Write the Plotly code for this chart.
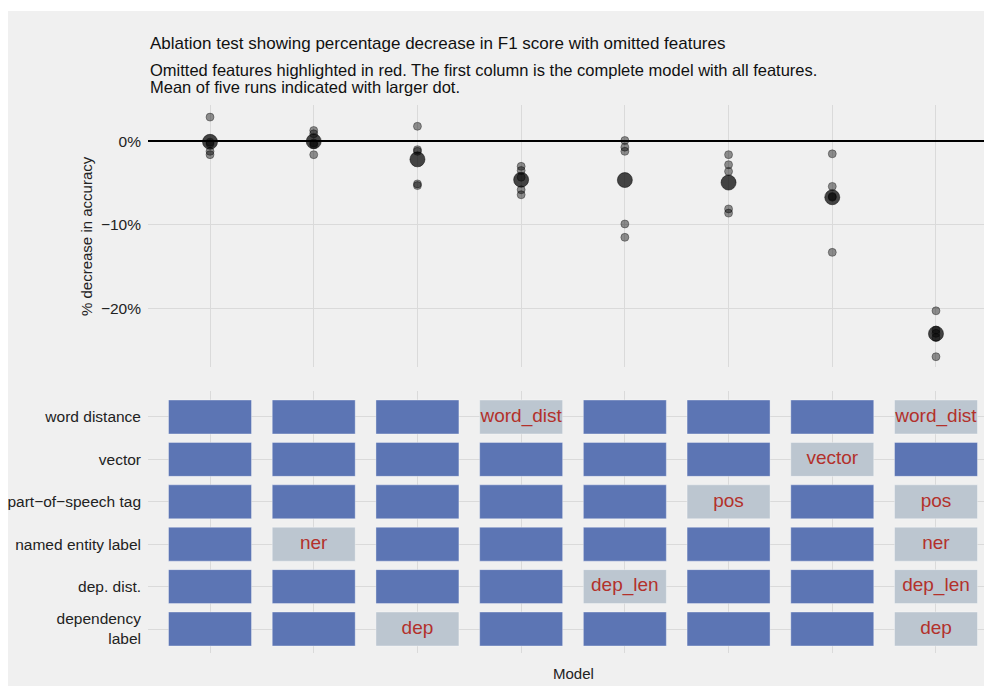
import numpy as np
import plotly.graph_objects as go

# Models (columns) and the feature codes omitted from each one
model_ids = [1, 2, 3, 4, 5, 6, 7, 8]
omitted = [
    [],
    ["ner"],
    ["dep"],
    ["word_dist"],
    ["dep_len"],
    ["pos"],
    ["vector"],
    ["word_dist", "pos", "ner", "dep_len", "dep"],
]

# Feature rows, listed bottom to top
feature_codes = ["dep", "dep_len", "ner", "pos", "vector", "word_dist"]
feature_labels = ["dependency<br>label", "dep. dist.", "named entity label",
                  "part\u2212of\u2212speech tag", "vector", "word distance"]

# Percentage change in F1 for five runs of each model
runs = [
    [2.9, -0.1, -0.3, -1.2, -1.6],
    [1.3, 0.9, -0.2, -0.4, -1.6],
    [1.8, -1.0, -1.2, -5.1, -5.3],
    [-3.0, -3.5, -4.3, -5.8, -6.4],
    [0.1, -0.7, -1.2, -9.9, -11.5],
    [-1.6, -2.8, -3.6, -8.1, -8.6],
    [-1.5, -5.4, -6.6, -6.7, -13.3],
    [-20.3, -22.6, -23.0, -23.5, -25.8],
]
y_ticks = [-20, -10, 0]
y_tick_text = ["\u221220%", "\u221210%", "0%"]

FONT = "Liberation Sans, Arial, Helvetica, sans-serif"
BG = "#f0f0f0"
GRID = "#dadada"
BLUE = "#5c75b4"
GREY = "#bcc6d0"
RED = "#b3312b"

fig = go.Figure()

# Individual runs
run_x = [m for m, r in zip(model_ids, runs) for _ in r]
run_y = [v for r in runs for v in r]
fig.add_trace(go.Scatter(
    x=run_x, y=run_y, mode="markers", xaxis="x", yaxis="y",
    marker=dict(size=8, color="rgba(0,0,0,0.42)",
                line=dict(width=1, color="rgba(0,0,0,0.35)")),
    showlegend=False, hoverinfo="x+y"))

# Mean of the five runs
means = [float(np.mean(r)) for r in runs]
fig.add_trace(go.Scatter(
    x=model_ids, y=means, mode="markers", xaxis="x", yaxis="y",
    marker=dict(size=15, color="rgba(0,0,0,0.72)",
                line=dict(width=1, color="rgba(0,0,0,0.5)")),
    showlegend=False, hoverinfo="x+y"))

# Feature tiles: present features in blue, omitted ones in grey with a red label
tile_w, tile_h = 0.8, 0.8
for state, colour in [("present", BLUE), ("omitted", GREY)]:
    bx, by = [], []
    for m, om in zip(model_ids, omitted):
        for code in feature_codes:
            is_om = code in om
            if (state == "omitted") == is_om:
                bx.append(m - tile_w / 2)
                by.append(feature_codes.index(code) + 1)
    fig.add_trace(go.Bar(
        orientation="h", base=bx, x=[tile_w] * len(bx), y=by, width=tile_h,
        xaxis="x2", yaxis="y2",
        marker=dict(color=colour, line=dict(width=1, color="rgba(255,255,255,0.35)")),
        showlegend=False, hoverinfo="skip"))

lab_x, lab_y, lab_t = [], [], []
for m, om in zip(model_ids, omitted):
    for code in om:
        lab_x.append(m)
        lab_y.append(feature_codes.index(code) + 1)
        lab_t.append(code)
fig.add_trace(go.Scatter(
    x=lab_x, y=lab_y, text=lab_t, mode="text", xaxis="x2", yaxis="y2",
    textfont=dict(family=FONT, size=19, color=RED),
    showlegend=False, hoverinfo="skip"))

L, R, T, B = 148, 0, 105, 34
W, H = 984, 687
plot_h = H - T - B
plot_w = W - L - R


def py(px):
    return (H - B - px) / plot_h


def pxx(px):
    return (px - L) / plot_w


x_range = [0.402, 8.463]
axis_common = dict(showline=False, zeroline=False, gridcolor=GRID, gridwidth=1,
                   ticks="", tickfont=dict(family=FONT, size=15.5, color="#222222"))

fig.update_layout(
    width=W, height=H,
    margin=dict(l=L, r=R, t=T, b=B),
    paper_bgcolor="white",
    plot_bgcolor="rgba(0,0,0,0)",
    barmode="overlay",
    font=dict(family=FONT, color="#222222"),
    xaxis=dict(axis_common, domain=[0, 1], range=x_range, anchor="y",
               tickvals=model_ids, showticklabels=False, showgrid=True),
    yaxis=dict(axis_common, domain=[py(367), 1], range=[-27.03, 4.35], anchor="x",
               tickvals=y_ticks, ticktext=y_tick_text, showgrid=True,
               zeroline=True, zerolinecolor="black", zerolinewidth=2,
               ticklabelstandoff=6),
    xaxis2=dict(axis_common, domain=[0, 1], range=x_range, anchor="y2",
                tickvals=model_ids, showticklabels=False, showgrid=True),
    yaxis2=dict(axis_common, domain=[0, py(391)], range=[0.434, 6.613], anchor="x2",
                tickvals=list(range(1, 7)), ticktext=feature_labels, showgrid=True,
                ticklabelstandoff=6),
    shapes=[dict(type="rect", xref="paper", yref="paper", layer="below",
                 x0=pxx(8), x1=pxx(984), y0=py(686), y1=py(11),
                 fillcolor=BG, line=dict(width=0))],
    annotations=[
        dict(text="Ablation test showing percentage decrease in F1 score with omitted features",
             xref="paper", yref="paper", x=0, y=py(43), xanchor="left", yanchor="middle",
             showarrow=False, font=dict(size=17, family=FONT, color="#111111")),
        dict(text="Omitted features highlighted in red. The first column is the complete model with all features.",
             xref="paper", yref="paper", x=0, y=py(70), xanchor="left", yanchor="middle",
             showarrow=False, font=dict(size=16.5, family=FONT, color="#111111")),
        dict(text="Mean of five runs indicated with larger dot.",
             xref="paper", yref="paper", x=0, y=py(87), xanchor="left", yanchor="middle",
             showarrow=False, font=dict(size=16.5, family=FONT, color="#111111")),
        dict(text="% decrease in accuracy", textangle=-90,
             xref="paper", yref="paper", x=pxx(87), y=py(236), xanchor="center", yanchor="middle",
             showarrow=False, font=dict(size=15, family=FONT, color="#222222")),
        dict(text="Model",
             xref="paper", yref="paper", x=pxx(573), y=py(673), xanchor="center", yanchor="middle",
             showarrow=False, font=dict(size=15, family=FONT, color="#222222")),
    ],
)

fig.write_html("out.html")
